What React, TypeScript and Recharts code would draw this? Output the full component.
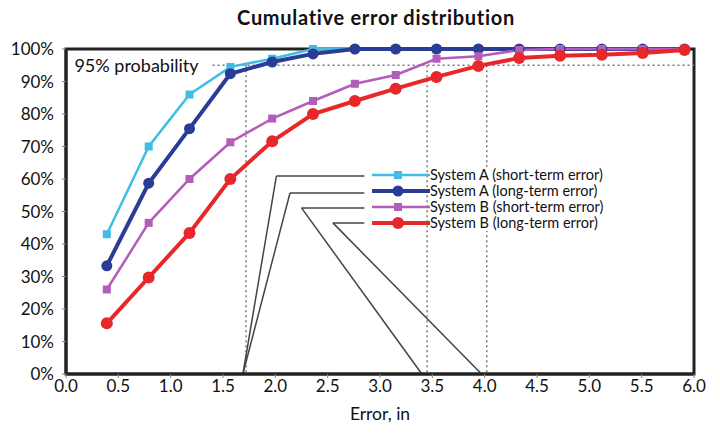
import React from 'react';
import {
  LineChart,
  Line,
  XAxis,
  YAxis,
  ReferenceLine,
  ReferenceArea,
  Legend,
} from 'recharts';

// error values (in) - measured in 1 cm steps, shown in inches
const errorInches = [0.39, 0.79, 1.18, 1.57, 1.97, 2.36, 2.76, 3.15, 3.54, 3.94, 4.33, 4.72, 5.12, 5.51, 5.91];

const systemAShort = [43, 70, 86, 94.5, 97, 100, 100, 100, 100, 100, 100, 100, 100, 100, 100];
const systemALong = [33.3, 58.7, 75.5, 92.4, 96, 98.5, 100, 100, 100, 100, 100, 100, 100, 100, 100];
const systemBShort = [26, 46.5, 60, 71.3, 78.6, 84, 89.3, 92, 97, 97.8, 99.7, 100, 100, 100, 100];
const systemBLong = [15.6, 29.7, 43.4, 60, 71.6, 80, 84, 87.8, 91.4, 94.8, 97.2, 97.9, 98.2, 98.8, 99.7];

const xTicks = [0, 0.5, 1, 1.5, 2, 2.5, 3, 3.5, 4, 4.5, 5, 5.5, 6];
const yTicks = [0, 10, 20, 30, 40, 50, 60, 70, 80, 90, 100];

// 95% probability guides
const probLine = [{ x: 1.4, y: 95 }, { x: 6, y: 95 }];
const probCrossings = [1.72, 3.45, 4.02];

// leader lines from legend entries down to the axis
const leaders = [
  [{ x: 1.69, y: 0 }, { x: 2.01, y: 60.9 }, { x: 2.85, y: 60.9 }],
  [{ x: 1.69, y: 0 }, { x: 2.14, y: 55.7 }, { x: 2.85, y: 55.7 }],
  [{ x: 3.4, y: 0 }, { x: 2.25, y: 51.1 }, { x: 2.85, y: 51.1 }],
  [{ x: 3.97, y: 0 }, { x: 2.55, y: 46.5 }, { x: 2.85, y: 46.5 }],
];

const data = errorInches.map((x, i) => ({
  x,
  aShort: systemAShort[i],
  aLong: systemALong[i],
  bShort: systemBShort[i],
  bLong: systemBLong[i],
}));

const series = [
  { key: 'aShort', name: 'System A (short-term error)', color: '#3fbde6', width: 2.5, shape: 'square', size: 8 },
  { key: 'aLong', name: 'System A (long-term error)', color: '#2b3c96', width: 4, shape: 'circle', size: 11 },
  { key: 'bShort', name: 'System B (short-term error)', color: '#b35cba', width: 2.5, shape: 'square', size: 8 },
  { key: 'bLong', name: 'System B (long-term error)', color: '#e8272b', width: 4, shape: 'circle', size: 12 },
];

const makeDot = (shape: string, color: string, size: number) => (props: any) => {
  const { cx, cy, index } = props;
  if (cx == null || cy == null) return <g key={index} />;
  if (shape === 'square') {
    return <rect key={index} x={cx - size / 2} y={cy - size / 2} width={size} height={size} fill={color} />;
  }
  return <circle key={index} cx={cx} cy={cy} r={size / 2} fill={color} />;
};

const LegendBox = () => (
  <div style={{ fontFamily: 'Lato, sans-serif', fontSize: 14.5, color: '#111', background: 'transparent' }}>
    {series.map((s) => (
      <div key={s.key} style={{ display: 'flex', alignItems: 'center', height: 16 }}>
        <svg width={58} height={16}>
          <line x1={0} y1={8} x2={58} y2={8} stroke={s.color} strokeWidth={s.width} />
          {s.shape === 'square' ? (
            <rect x={26 - 4} y={4} width={8} height={8} fill={s.color} />
          ) : (
            <circle cx={26} cy={8} r={s.size / 2} fill={s.color} />
          )}
        </svg>
        <span style={{ background: '#fff', lineHeight: '16px', height: 16, paddingRight: 4, whiteSpace: 'nowrap' }}>
          {s.name}
        </span>
      </div>
    ))}
  </div>
);

export default function App() {
  return (
    <div style={{ position: 'absolute', left: 0, top: 0, width: 720, height: 434, background: '#fff' }}>
      <div
        style={{
          position: 'absolute',
          left: 0,
          top: 5,
          width: 752,
          textAlign: 'center',
          fontFamily: 'Lato, sans-serif',
          fontWeight: 700,
          fontSize: 20,
          letterSpacing: 0.7,
          color: '#111',
        }}
      >
        Cumulative error distribution
      </div>
      <LineChart
        width={720}
        height={434}
        data={data}
        margin={{ top: 49, right: 26, bottom: 0, left: 0 }}
        style={{ fontFamily: 'Lato, sans-serif' }}
      >
        <XAxis
          dataKey="x"
          type="number"
          domain={[0, 6]}
          ticks={xTicks}
          tickFormatter={(v: number) => v.toFixed(1)}
          height={60}
          tick={{ fontSize: 17, fill: '#111' }}
          tickSize={4}
          tickMargin={2}
          axisLine={{ stroke: '#222', strokeWidth: 3 }}
          tickLine={{ stroke: '#888' }}
          label={{ value: 'Error, in', position: 'insideBottom', offset: 14, fontSize: 17.5, fill: '#111' }}
        />
        <YAxis
          type="number"
          domain={[0, 100]}
          ticks={yTicks}
          tickFormatter={(v: number) => `${v}%`}
          width={66}
          tick={{ fontSize: 17, fill: '#111' }}
          tickSize={4}
          tickMargin={8}
          axisLine={{ stroke: '#222', strokeWidth: 3 }}
          tickLine={{ stroke: '#888' }}
        />
        <ReferenceArea x1={0} x2={6} y1={0} y2={100} fill="none" stroke="#222" strokeWidth={3} ifOverflow="visible" />
        <ReferenceLine
          segment={probLine}
          stroke="#777"
          strokeWidth={1.5}
          strokeDasharray="2 3"
          label={{ value: '95% probability', position: 'left', offset: 14, fontSize: 18, fill: '#111' }}
        />
        {probCrossings.map((x) => (
          <ReferenceLine
            key={x}
            segment={[{ x, y: 95 }, { x, y: 0 }]}
            stroke="#777"
            strokeWidth={1.5}
            strokeDasharray="2 3"
          />
        ))}
        {leaders.flatMap((pts, li) =>
          pts.slice(1).map((p, i) => (
            <ReferenceLine
              key={`${li}-${i}`}
              segment={[pts[i], p]}
              stroke="#444"
              strokeWidth={1.5}
            />
          ))
        )}
        {series.map((s) => (
          <Line
            key={s.key}
            dataKey={s.key}
            name={s.name}
            type="linear"
            stroke={s.color}
            strokeWidth={s.width}
            dot={makeDot(s.shape, s.color, s.size)}
            activeDot={false}
            isAnimationActive={false}
          />
        ))}
        <Legend
          layout="vertical"
          align="center"
          verticalAlign="middle"
          content={() => <LegendBox />}
          wrapperStyle={{ left: 372, top: 167, width: 280 }}
        />
      </LineChart>
    </div>
  );
}
